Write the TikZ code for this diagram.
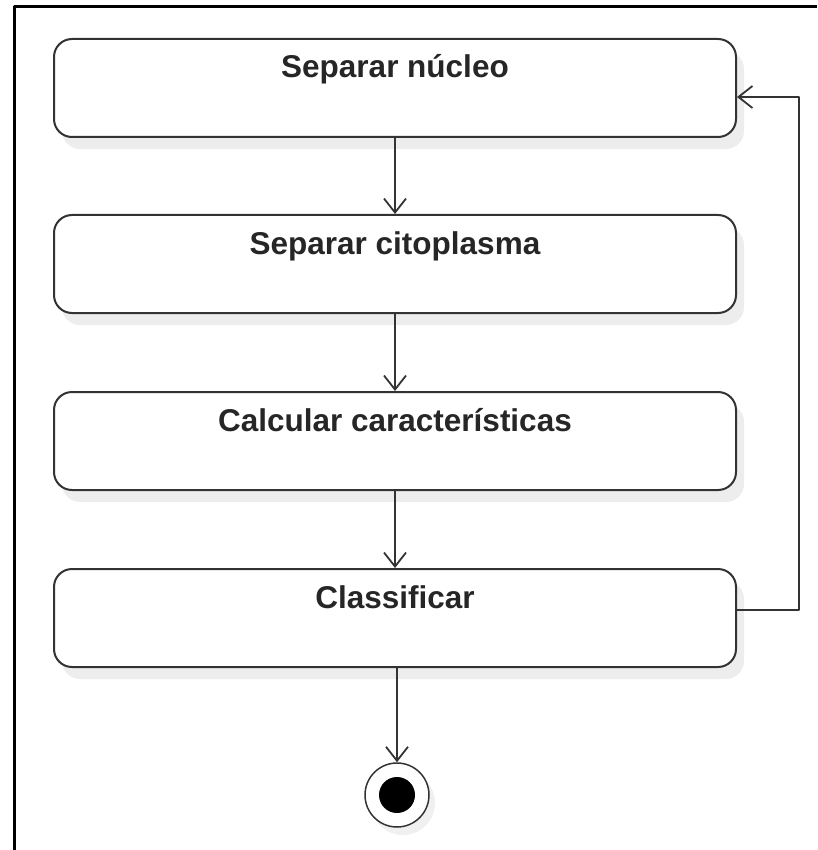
\documentclass[tikz,border=0pt]{standalone}
\usepackage{fontspec}
\setmainfont{Liberation Sans}
\usetikzlibrary{arrows.meta,shadows}
\begin{document}
\begin{tikzpicture}[x=1pt,y=-1pt,line join=round,
  act/.style={draw=black!80,line width=2pt,fill=white,rounded corners=18pt,
    minimum width=682pt,minimum height=98pt,inner sep=0pt,
    drop shadow={shadow xshift=8pt,shadow yshift=-12pt,fill=black!7,opacity=1}},
  lbl/.style={font=\fontsize{31.5}{36}\selectfont\bfseries,text=black!85,anchor=base,inner sep=0pt},
  flow/.style={draw=black!80,line width=1.8pt,-{Straight Barb[length=14pt,width=22pt,line width=1.8pt]}}]
  \useasboundingbox (0,0) rectangle (817,850);
  \draw[line width=3pt] (14,850) |- (817,7);
  \node[act] (n1) at (395,88) {};
  \node[act] (n2) at (395,264) {};
  \node[act] (n3) at (395,441) {};
  \node[act] (n4) at (395,618) {};
  \node[lbl] (t1) at ([yshift=-40pt]n1.north) {Separar núcleo};
  \node[lbl] (t2) at ([yshift=-40pt]n2.north) {Separar citoplasma};
  \node[lbl] (t3) at ([yshift=-40pt]n3.north) {Calcular características};
  \node[lbl] (t4) at ([yshift=-40pt]n4.north) {Classificar};
  \node[circle,draw=black!80,line width=1.5pt,fill=white,minimum size=64pt,inner sep=0pt,
    drop shadow={shadow xshift=6pt,shadow yshift=-8pt,fill=black!6,opacity=1}] (end) at (397,795) {};
  \node[circle,fill=black,minimum size=36pt,inner sep=0pt] (endin) at (end) {};
  \draw[flow] (n1) -- (n2);
  \draw[flow] (n2) -- (n3);
  \draw[flow] (n3) -- (n4);
  \draw[flow] (n4.south -| end) -- (end);
  \coordinate (back) at (799,0);
  \draw[flow] ([yshift=8pt]n4.east) -| ([yshift=-9pt]n1.east -| back) -- ([yshift=-9pt]n1.east);
\end{tikzpicture}
\end{document}
